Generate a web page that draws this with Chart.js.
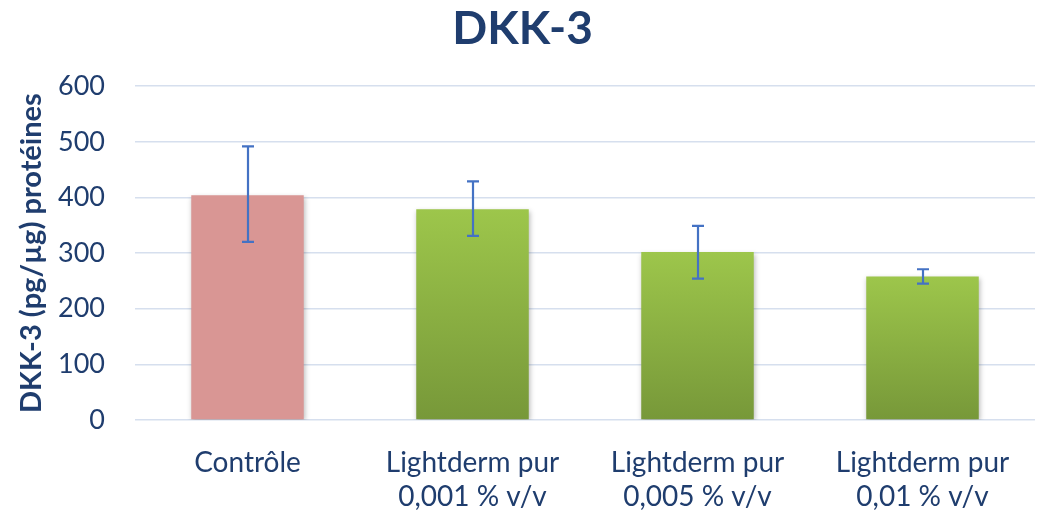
<!DOCTYPE html>
<html>
<head>
<meta charset="utf-8">
<script src="https://cdn.jsdelivr.net/npm/chart.js@4"></script>
<style>
  html, body { margin: 0; padding: 0; background: #ffffff; }
  #wrap { width: 1046px; height: 514px; }
</style>
</head>
<body>
<div id="wrap"><canvas id="dkkChart" width="1046" height="514"></canvas></div>
<script>
// Chart data
const categories = ['Contrôle', ['Lightderm pur', '0,001 % v/v'], ['Lightderm pur', '0,005 % v/v'], ['Lightderm pur', '0,01 % v/v']];
const meanValues = [404, 379, 302, 258];
const errLow = [320, 331, 254, 245];
const errHigh = [492, 429, 349, 271];
const yTicks = [0, 100, 200, 300, 400, 500, 600];

const TEXT_BLUE = '#1F3D6E';
const FONT = 'Lato, "Open Sans", sans-serif';

// Per-bar vertical gradient (green bars), solid pink for control
function barFill(ctx) {
  const chart = ctx.chart;
  if (ctx.dataIndex === 0) return '#D99694';
  if (!chart.chartArea) return '#8DB043';
  const y = chart.scales.y;
  const top = y.getPixelForValue(meanValues[ctx.dataIndex]);
  const bottom = y.getPixelForValue(0);
  const g = chart.ctx.createLinearGradient(0, top, 0, bottom);
  g.addColorStop(0, '#9DC64B');
  g.addColorStop(1, '#779839');
  return g;
}

// Soft shadow behind the bars
const barShadow = {
  id: 'barShadow',
  beforeDatasetDraw(chart) {
    const c = chart.ctx;
    c.save();
    c.shadowColor = 'rgba(0,0,0,0.28)';
    c.shadowBlur = 5;
    c.shadowOffsetX = 1;
    c.shadowOffsetY = 2;
  },
  afterDatasetDraw(chart) {
    chart.ctx.restore();
  }
};

// Error bars drawn from errLow / errHigh through the scales
const errorBars = {
  id: 'errorBars',
  afterDatasetsDraw(chart) {
    const c = chart.ctx;
    const y = chart.scales.y;
    const meta = chart.getDatasetMeta(0);
    c.save();
    c.strokeStyle = '#4472C4';
    c.lineWidth = 2.2;
    meta.data.forEach((bar, i) => {
      const x = Math.round(bar.x);
      const yHi = y.getPixelForValue(errHigh[i]);
      const yLo = y.getPixelForValue(errLow[i]);
      c.beginPath();
      c.moveTo(x, yHi); c.lineTo(x, yLo);
      c.moveTo(x - 6, yHi); c.lineTo(x + 6, yHi);
      c.moveTo(x - 6, yLo); c.lineTo(x + 6, yLo);
      c.stroke();
    });
    c.restore();
  }
};

new Chart(document.getElementById('dkkChart'), {
  type: 'bar',
  data: {
    labels: categories,
    datasets: [{
      data: meanValues,
      backgroundColor: barFill,
      borderWidth: 0,
      barPercentage: 0.5,
      categoryPercentage: 1.0
    }]
  },
  plugins: [barShadow, errorBars],
  options: {
    responsive: false,
    animation: false,
    layout: { padding: { left: 10, right: 11, top: 0, bottom: 0 } },
    plugins: {
      legend: { display: false },
      tooltip: { enabled: false },
      title: {
        display: true,
        text: 'DKK-3',
        color: TEXT_BLUE,
        font: { family: FONT, size: 46, weight: 'bold' },
        padding: { top: 2, bottom: 29 }
      }
    },
    scales: {
      x: {
        grid: { display: false },
        border: { display: false },
        ticks: {
          color: TEXT_BLUE,
          font: { family: FONT, size: 28, lineHeight: 1.21 },
          padding: 18,
          maxRotation: 0,
          autoSkip: false
        },
        afterFit(scale) { scale.height = 94; }
      },
      y: {
        min: 0,
        max: 600,
        afterBuildTicks(scale) { scale.ticks = yTicks.map(v => ({ value: v })); },
        grid: { color: '#D6DFEE', lineWidth: 1.5, drawTicks: false },
        border: { display: false },
        ticks: {
          color: TEXT_BLUE,
          font: { family: FONT, size: 27 },
          padding: 30
        },
        title: {
          display: true,
          text: 'DKK-3 (pg/µg) protéines',
          color: TEXT_BLUE,
          font: { family: FONT, size: 29, weight: 'bold' },
          padding: { top: 4, bottom: 0 }
        },
        afterFit(scale) { scale.width = 125; }
      }
    }
  }
});
</script>
</body>
</html>
